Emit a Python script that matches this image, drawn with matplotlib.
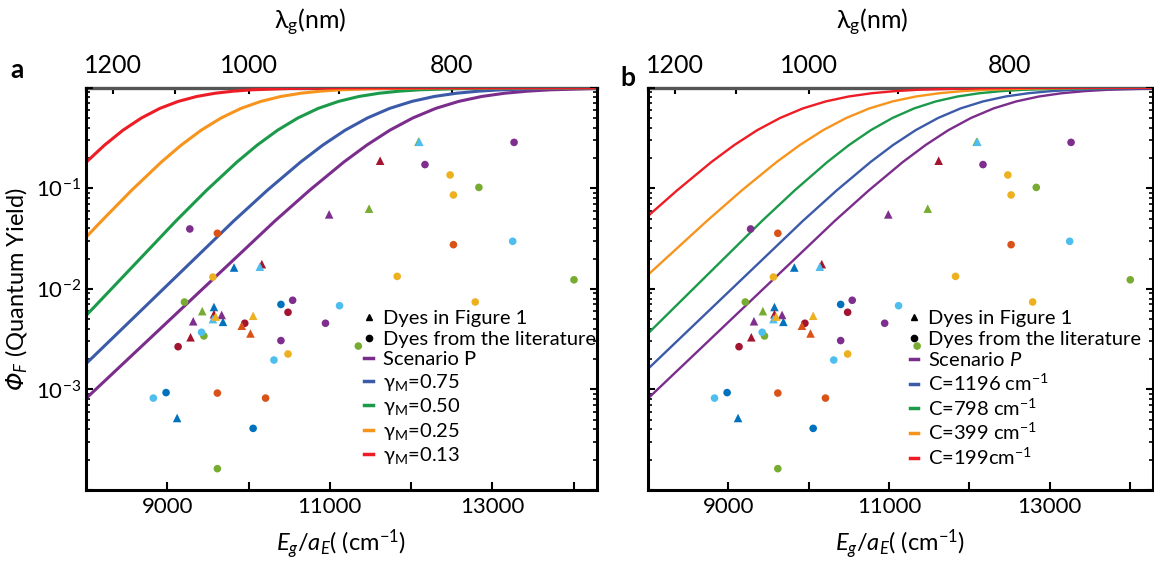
import numpy as np
import matplotlib
matplotlib.use("Agg")
import matplotlib.pyplot as plt
from matplotlib.lines import Line2D

plt.rcParams["font.family"] = ["Lato", "DejaVu Sans"]
plt.rcParams["mathtext.fontset"] = "custom"
plt.rcParams["mathtext.rm"] = "Lato"
plt.rcParams["mathtext.it"] = "Lato:italic"
plt.rcParams["mathtext.bf"] = "Lato:bold"
plt.rcParams["mathtext.sf"] = "DejaVu Sans:italic"  # used for the italic Phi only
plt.rcParams["mathtext.fallback"] = "stixsans"

# dye colours (MATLAB palette)
dye_colors = {
    "blue": "#0072BD", "orange": "#D95319", "yellow": "#EDB120",
    "purple": "#7E2F8E", "green": "#77AC30", "cyan": "#4DBEEE",
    "dkred": "#A2142F",
}

# Dyes in Figure 1 (triangles): energy (cm-1), quantum yield, colour
tri_energy = [9821, 9574, 9685, 9121, 10163, 11618, 9574, 9286, 12090, 11482,
              9430, 10138, 12100, 9561, 10991, 9669, 9319, 9595, 10056, 9916, 10023]
tri_qy = [0.0163, 0.0066, 0.0047, 0.00052, 0.0176, 0.188, 0.0056, 0.0033, 0.29, 0.0627,
          0.006, 0.0166, 0.29, 0.005, 0.055, 0.0055, 0.00476, 0.0053, 0.0054, 0.0043, 0.0036]
tri_color = ["blue", "blue", "blue", "blue", "dkred", "dkred", "dkred", "dkred", "green", "green",
             "green", "cyan", "cyan", "cyan", "purple", "purple", "purple", "yellow", "yellow",
             "orange", "orange"]

# Dyes from the literature (circles)
circ_energy = [9277, 13266, 12170, 10542, 10946, 10398,
               9616, 12520, 9616, 10209,
               9561, 12479, 12520, 11828, 12788, 10485,
               9211, 12833, 14003, 9450, 11350, 9616,
               13249, 11119, 9421, 10312, 8828,
               10398, 8985, 10056,
               10485, 9953, 9133]
circ_qy = [0.0394, 0.286, 0.172, 0.0077, 0.00455, 0.00306,
           0.0357, 0.0275, 0.00092, 0.00082,
           0.0131, 0.1356, 0.0858, 0.0133, 0.0074, 0.00225,
           0.0074, 0.102, 0.0123, 0.0034, 0.0027, 0.000163,
           0.0297, 0.0068, 0.0037, 0.00196, 0.00082,
           0.007, 0.00093, 0.00041,
           0.00585, 0.00455, 0.00266]
circ_color = ["purple"] * 6 + ["orange"] * 4 + ["yellow"] * 6 + ["green"] * 6 + \
             ["cyan"] * 5 + ["blue"] * 3 + ["dkred"] * 3

# model curves, panel a (gamma_M series)
purple_E = [8000, 10325, 10749, 11172, 11455, 11738, 12020, 12303, 12585, 12868, 13150, 13433, 13715, 14286]
purple_qy = [0.000812, 0.0474, 0.0953, 0.1824, 0.269, 0.378, 0.5, 0.623, 0.731, 0.818, 0.881, 0.924, 0.953, 0.982]

blue_a_E = [8000, 9818, 10229, 10640, 10914, 11188, 11462, 11736, 12010, 12284, 12558, 12832, 13106, 13654, 14286]
blue_a_qy = [0.0018, 0.0474, 0.0953, 0.1824, 0.269, 0.378, 0.5, 0.623, 0.731, 0.818, 0.881, 0.924, 0.953, 0.982, 0.994]
green_a_E = [8000, 9107, 9482, 9857, 10107, 10357, 10607, 10857, 11107, 11357, 11607, 11857, 12107, 12607, 13357, 14286]
green_a_qy = [0.00541, 0.0474, 0.0953, 0.1824, 0.269, 0.378, 0.5, 0.623, 0.731, 0.818, 0.881, 0.924, 0.953, 0.982, 0.996, 0.9994]
orange_a_E = [8000, 8192, 8560, 8927, 9172, 9417, 9662, 9907, 10152, 10397, 10642, 10887, 11132, 11622, 12357, 14286]
orange_a_qy = [0.0326, 0.0474, 0.0953, 0.1824, 0.269, 0.378, 0.5, 0.623, 0.731, 0.818, 0.881, 0.924, 0.953, 0.982, 0.996, 1.0]
red_a_E = [8000, 8229, 8455, 8682, 8909, 9135, 9362, 9588, 9815, 10041, 10494, 11174, 14286]
red_a_qy = [0.181, 0.269, 0.378, 0.5, 0.623, 0.731, 0.818, 0.881, 0.924, 0.953, 0.982, 0.996, 1.0]

# model curves, panel b (C series)
blue_b_E = [8000, 9928, 10349, 10770, 11050, 11331, 11611, 11892, 12172, 12453, 12733, 13014, 13294, 13855, 14286]
blue_b_qy = [0.0016, 0.0474, 0.0953, 0.1824, 0.269, 0.378, 0.5, 0.623, 0.731, 0.818, 0.881, 0.924, 0.953, 0.982, 0.9916]
green_b_E = [8000, 9420, 9826, 10232, 10502, 10773, 11043, 11314, 11584, 11855, 12125, 12396, 12666, 13207, 14019, 14286]
green_b_qy = [0.0036, 0.0474, 0.0953, 0.1824, 0.269, 0.378, 0.5, 0.623, 0.731, 0.818, 0.881, 0.924, 0.953, 0.982, 0.996, 0.9975]
orange_b_E = [8000, 8734, 9168, 9601, 9890, 10179, 10468, 10757, 11046, 11335, 11624, 11913, 12202, 12780, 13647, 14286]
orange_b_qy = [0.0138, 0.0474, 0.0953, 0.1824, 0.269, 0.378, 0.5, 0.623, 0.731, 0.818, 0.881, 0.924, 0.953, 0.982, 0.996, 0.9986]
red_b_E = [8000, 8362, 8789, 9074, 9359, 9644, 9929, 10214, 10499, 10784, 11069, 11354, 11924, 12779, 14286]
red_b_qy = [0.053, 0.0953, 0.1824, 0.269, 0.378, 0.5, 0.623, 0.731, 0.818, 0.881, 0.924, 0.953, 0.982, 0.996, 1.0]

labels_a = ["Scenario P", r"$\mathrm{\gamma_M}$=0.75", r"$\mathrm{\gamma_M}$=0.50",
            r"$\mathrm{\gamma_M}$=0.25", r"$\mathrm{\gamma_M}$=0.13"]
labels_b = [r"Scenario $P$", r"C=1196 cm$^{-1}$", r"C=798 cm$^{-1}$",
            r"C=399 cm$^{-1}$", r"C=199cm$^{-1}$"]

curve_colors = ["#7B2D8C", "#3B5BA9", "#1B9A4A", "#F7941D", "#EE1C25"]

xticks = [9000, 10000, 11000, 12000, 13000, 14000]
xtick_labels = ["9000", "", "11000", "", "13000", ""]
nm_ticks = [1200, 1100, 1000, 900, 800]
nm_labels = ["1200", "", "1000", "", "800"]


def to_nm(x):
    x = np.asarray(x, dtype=float)
    with np.errstate(divide="ignore"):
        return 1e7 / x


def draw_panel(ax, curves, labels, lw, leg_x):
    for (E, qy), col in zip(curves, curve_colors):
        ax.plot(E, qy, color=col, lw=lw, zorder=2, solid_capstyle="butt")
    ax.scatter(circ_energy, circ_qy, s=30, marker="o",
               c=[dye_colors[k] for k in circ_color], linewidths=0, zorder=3)
    ax.scatter(tri_energy, tri_qy, s=38, marker="^",
               c=[dye_colors[k] for k in tri_color], linewidths=0, zorder=3)

    ax.set_yscale("log")
    ax.set_xlim(8000, 14286)
    ax.set_ylim(1e-4, 1)
    ax.set_xticks(xticks)
    ax.set_xticklabels(xtick_labels)
    ax.set_yticks([1e-4, 1e-3, 1e-2, 1e-1, 1])
    ax.tick_params(axis="x", which="major", direction="in", length=6, width=1.5,
                   labelsize=16, pad=5, top=False)
    ax.tick_params(axis="y", which="major", direction="in", length=5, width=1.5,
                   right=True, labelsize=16)
    ax.tick_params(axis="y", which="minor", direction="in", length=3, width=1.2, right=True)
    for s in ["left", "right", "bottom"]:
        ax.spines[s].set_linewidth(2.2)
    ax.spines["top"].set_visible(False)
    ax.set_xlabel(r"$E_g/a_E$( (cm$^{-1}$)", fontsize=17, labelpad=8)

    sec = ax.secondary_xaxis("top", functions=(to_nm, to_nm))
    sec.set_xticks(nm_ticks)
    sec.set_xticklabels(nm_labels)
    sec.tick_params(direction="in", length=4, width=1.5, labelsize=18, pad=8)
    sec.spines["top"].set_linewidth(2.4)
    sec.spines["top"].set_color("#555555")

    handles = [Line2D([], [], marker="^", ls="none", color="k", ms=5),
               Line2D([], [], marker="o", ls="none", color="k", ms=4.5)]
    handles += [Line2D([], [], color=c, lw=2.5) for c in curve_colors]
    names = ["Dyes in Figure 1", "Dyes from the literature"] + labels
    ax.legend(handles, names, loc="upper left", bbox_to_anchor=(leg_x, 0.447),
              frameon=False, fontsize=14.5, handlelength=0.4, handletextpad=0.5,
              labelspacing=0.17, borderpad=0, borderaxespad=0)


fig = plt.figure(figsize=(11.54, 5.67), dpi=100)
ax_a = fig.add_axes([86 / 1154, 77 / 567, 511 / 1154, 402.3 / 567])
ax_b = fig.add_axes([648 / 1154, 77 / 567, 505 / 1154, 402.3 / 567])

curves_a = [(purple_E, purple_qy), (blue_a_E, blue_a_qy), (green_a_E, green_a_qy),
            (orange_a_E, orange_a_qy), (red_a_E, red_a_qy)]
curves_b = [(purple_E, purple_qy), (blue_b_E, blue_b_qy), (green_b_E, green_b_qy),
            (orange_b_E, orange_b_qy), (red_b_E, red_b_qy)]

draw_panel(ax_a, curves_a, labels_a, 2.2, 0.545)
draw_panel(ax_b, curves_b, labels_b, 1.7, 0.519)

ax_a.set_yticklabels(["", r"10$^{-3}$", r"10$^{-2}$", r"10$^{-1}$", ""])
ax_a.set_ylabel(r"$\mathsf{\Phi}_F$ (Quantum Yield)", fontsize=17, labelpad=4)
ax_b.set_yticklabels([])

fig.text(310 / 1154, 1 - 22 / 567, r"λ$_\mathrm{g}$(nm)", fontsize=18, ha="center", va="center")
fig.text(872 / 1154, 1 - 22 / 567, r"λ$_\mathrm{g}$(nm)", fontsize=18, ha="center", va="center")
fig.text(17 / 1154, 1 - 70 / 567, "a", fontsize=19, weight="bold", ha="center", va="center")
fig.text(628 / 1154, 1 - 78 / 567, "b", fontsize=19, weight="bold", ha="center", va="center")

fig.savefig("out.png", dpi=100)
